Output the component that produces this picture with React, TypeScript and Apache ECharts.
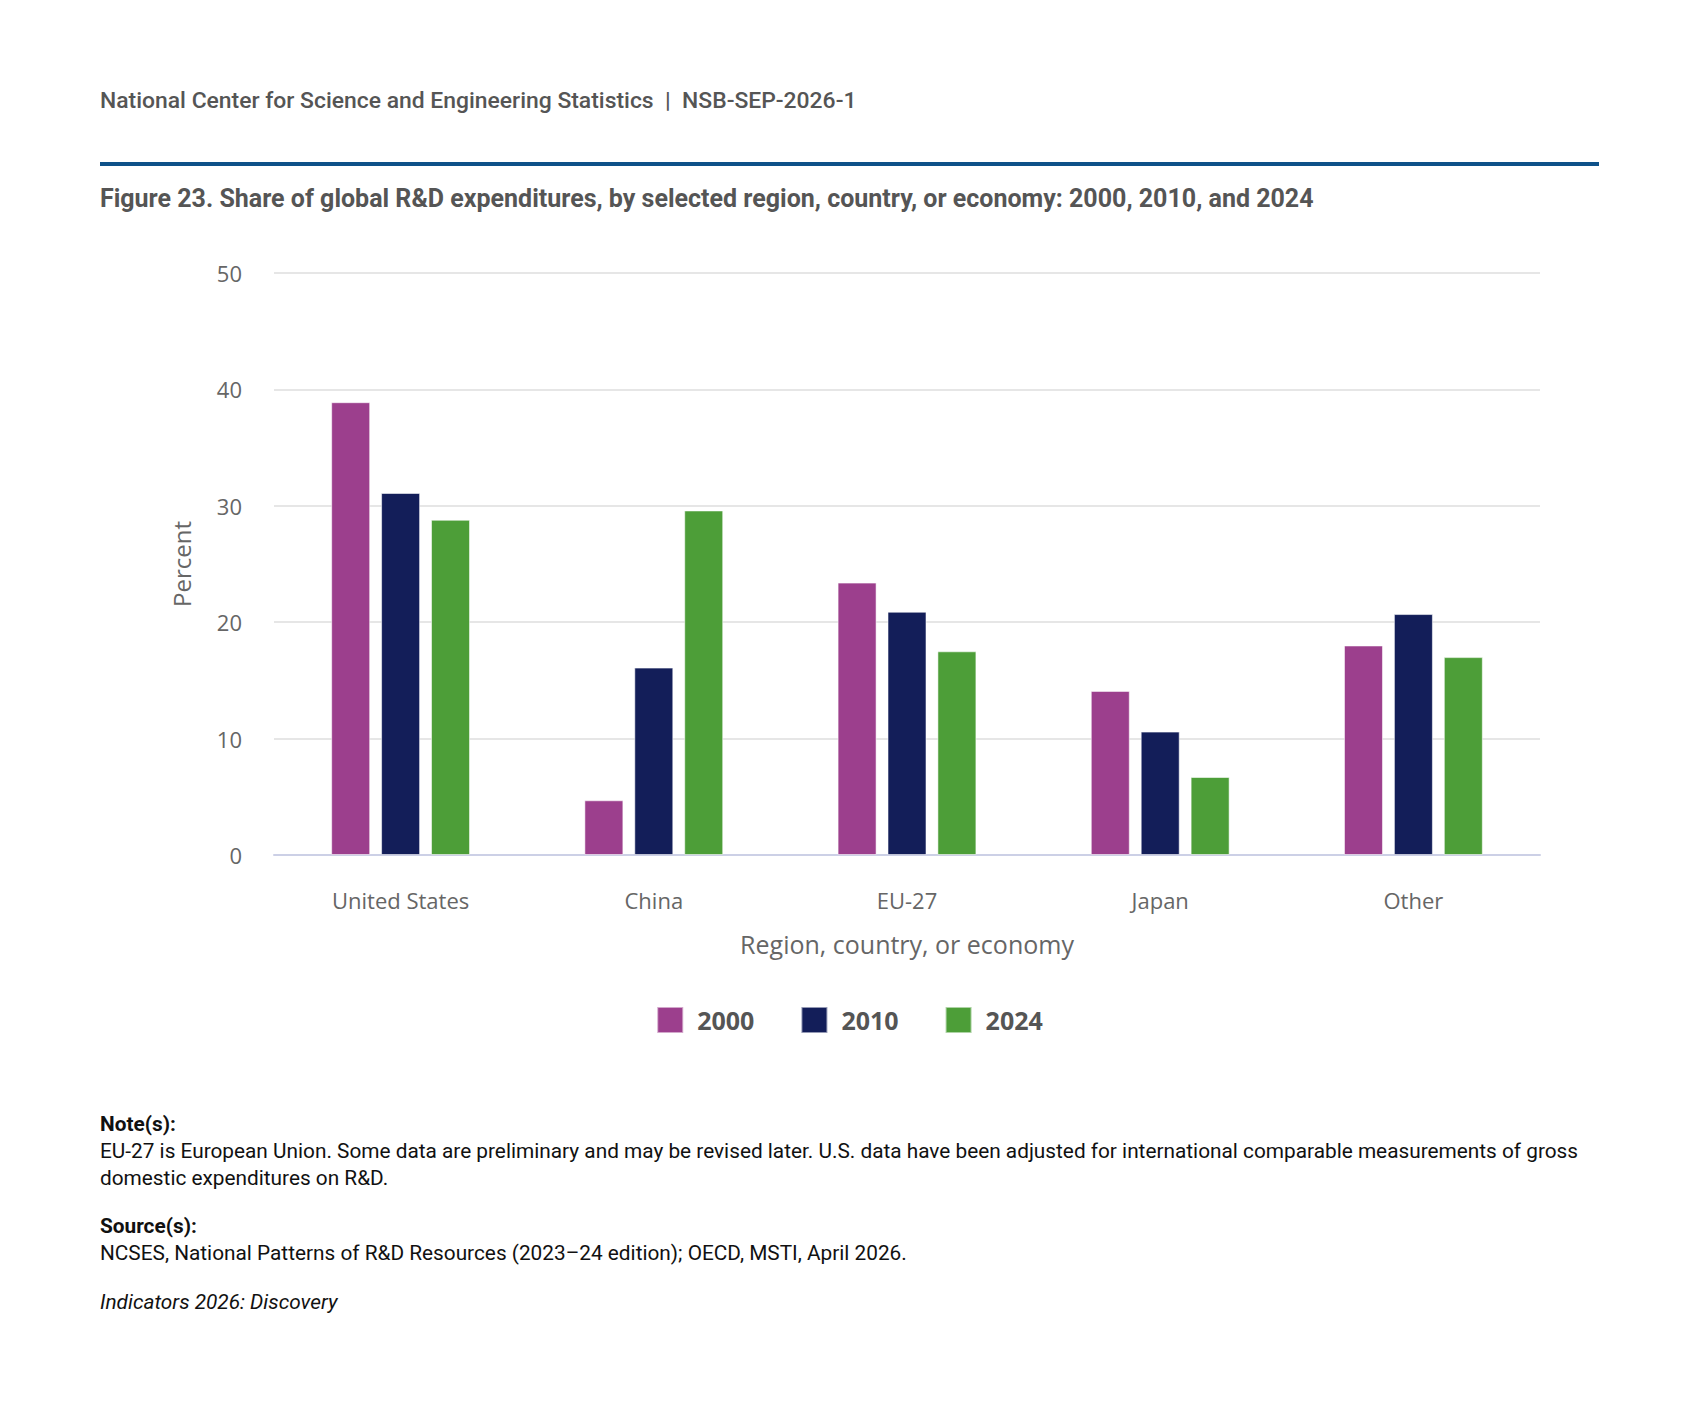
import React, { useEffect, useRef } from "react";
import * as echarts from "echarts";

const categories = ["United States", "China", "EU-27", "Japan", "Other"];
const years = ["2000", "2010", "2024"];
const values2000 = [38.9, 4.7, 23.4, 14.1, 18.0];
const values2010 = [31.1, 16.1, 20.9, 10.6, 20.7];
const values2024 = [28.8, 29.6, 17.5, 6.7, 17.0];
const yTicks = { min: 0, max: 50, interval: 10 };

const headerText = "National Center for Science and Engineering Statistics  |  NSB-SEP-2026-1";
const titleText =
  "Figure 23. Share of global R&D expenditures, by selected region, country, or economy: 2000, 2010, and 2024";
const noteLines = [
  "EU-27 is European Union. Some data are preliminary and may be revised later. U.S. data have been adjusted for international comparable measurements of gross",
  "domestic expenditures on R&D.",
];
const sourceLine = "NCSES, National Patterns of R&D Resources (2023\u201324 edition); OECD, MSTI, April 2026.";
const footerLine = "Indicators 2026: Discovery";

const colors = ["#9c3f8d", "#131e59", "#4d9e38"];

export default function App() {
  const ref = useRef<HTMLDivElement>(null);

  useEffect(() => {
    document.body.style.margin = "0";
    if (!ref.current) return;
    const chart = echarts.init(ref.current, null, { renderer: "svg" });
    const seriesData = [values2000, values2010, values2024];
    const sans = "Roboto, 'Noto Sans', sans-serif";
    const open = "'Open Sans', 'Noto Sans', sans-serif";

    chart.setOption({
      animation: false,
      backgroundColor: "#ffffff",
      color: colors,
      grid: { left: 274, right: 159, top: 273, height: 582 },
      legend: {
        data: years,
        left: "center",
        top: 1001,
        itemWidth: 26,
        itemHeight: 26,
        itemGap: 46,
        icon: "rect",
        textStyle: { fontFamily: open, fontSize: 25, fontWeight: "bold", color: "#555555", padding: [0, 0, 0, 9] },
        selectedMode: false,
      },
      xAxis: {
        type: "category",
        data: categories,
        name: "Region, country, or economy",
        nameLocation: "middle",
        nameGap: 76,
        nameTextStyle: { fontFamily: open, fontSize: 25, color: "#666666" },
        axisLine: { lineStyle: { color: "#ccd0e6", width: 2 } },
        axisTick: { alignWithLabel: true, length: 20, lineStyle: { color: "#ccd0e6", width: 2 } },
        axisLabel: { fontFamily: open, fontSize: 22, color: "#666666", margin: 34 },
      },
      yAxis: {
        type: "value",
        min: yTicks.min,
        max: yTicks.max,
        interval: yTicks.interval,
        name: "Percent",
        nameLocation: "middle",
        nameGap: 81,
        nameRotate: 90,
        nameTextStyle: { fontFamily: open, fontSize: 24, color: "#666666" },
        axisLine: { show: false },
        axisTick: { show: false },
        axisLabel: { fontFamily: open, fontSize: 22, color: "#666666", margin: 32 },
        splitLine: { lineStyle: { color: "#e6e6e6", width: 2 } },
      },
      series: years.map((y, i) => ({
        name: y,
        type: "bar",
        data: seriesData[i],
        barWidth: 39,
        barGap: "28%",
        itemStyle: { color: colors[i], borderColor: "rgba(255,255,255,0.55)", borderWidth: 1 },
      })),
      graphic: [
        {
          type: "text",
          left: 100,
          top: 89,
          style: { text: headerText, fontFamily: sans, fontSize: 22.9, fontWeight: 500, fill: "#555555" },
        },
        {
          type: "rect",
          shape: { x: 100, y: 162, width: 1499, height: 4 },
          style: { fill: "#0e5189" },
        },
        {
          type: "text",
          left: 100,
          top: 186,
          style: { text: titleText, fontFamily: sans, fontSize: 25, fontWeight: "bold", fill: "#555555" },
        },
        {
          type: "text",
          left: 100,
          top: 1113,
          style: { text: "Note(s):", fontFamily: sans, fontSize: 20.8, fontWeight: "bold", fill: "#111111" },
        },
        {
          type: "text",
          left: 100,
          top: 1140,
          style: { text: noteLines[0], fontFamily: sans, fontSize: 20.8, fill: "#111111" },
        },
        {
          type: "text",
          left: 100,
          top: 1167,
          style: { text: noteLines[1], fontFamily: sans, fontSize: 20.8, fill: "#111111" },
        },
        {
          type: "text",
          left: 100,
          top: 1215,
          style: { text: "Source(s):", fontFamily: sans, fontSize: 20.8, fontWeight: "bold", fill: "#111111" },
        },
        {
          type: "text",
          left: 100,
          top: 1242,
          style: { text: sourceLine, fontFamily: sans, fontSize: 20.8, fill: "#111111" },
        },
        {
          type: "text",
          left: 100,
          top: 1291,
          style: { text: footerLine, fontFamily: sans, fontSize: 20.8, fontStyle: "italic", fill: "#111111" },
        },
      ],
    });

    return () => chart.dispose();
  }, []);

  return <div ref={ref} style={{ width: 1699, height: 1422 }} />;
}
